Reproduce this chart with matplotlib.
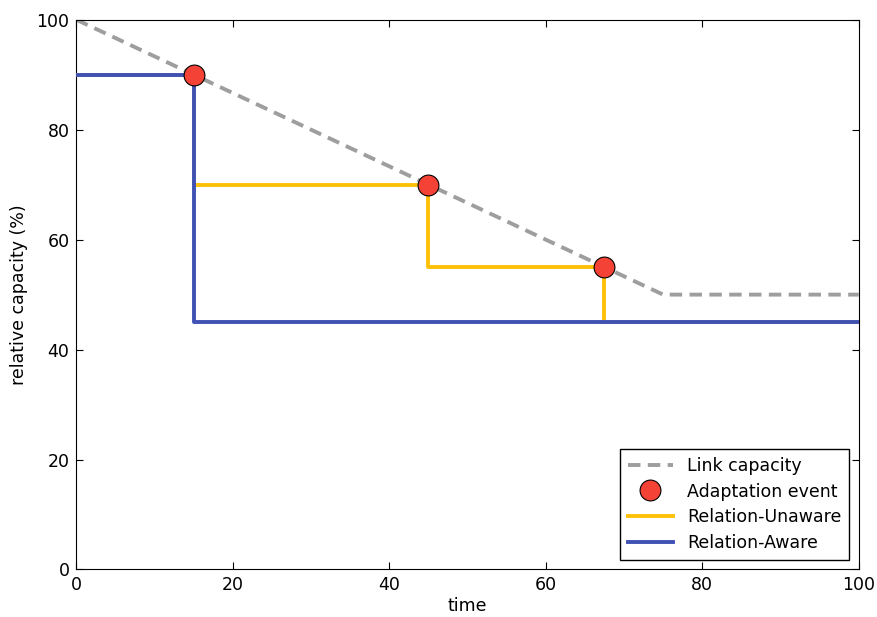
import matplotlib
matplotlib.use("Agg")
import matplotlib.pyplot as plt

# link capacity (piecewise linear)
cap_t = [0, 75, 100]
cap_v = [100, 50, 50]

# adaptation events
event_t = [15, 45, 67.5]
event_v = [90, 70, 55]

# step series (value holds from each time until the next)
unaware_t = [0, 15, 45, 67.5, 100]
unaware_v = [90, 70, 55, 45, 45]
aware_t = [0, 15, 100]
aware_v = [90, 45, 45]

plt.rcParams['font.family'] = 'DejaVu Sans'
plt.rcParams['font.size'] = 12.5
plt.rcParams['xtick.direction'] = 'in'
plt.rcParams['ytick.direction'] = 'in'
plt.rcParams['xtick.top'] = True
plt.rcParams['ytick.right'] = True
plt.rcParams['xtick.major.size'] = 5
plt.rcParams['ytick.major.size'] = 5
plt.rcParams['xtick.major.pad'] = 5
plt.rcParams['ytick.major.pad'] = 5

fig, ax = plt.subplots(figsize=(8.78, 6.17), dpi=100)
fig.subplots_adjust(left=0.087, right=0.978, top=0.968, bottom=0.077)

ax.plot(cap_t, cap_v, color='#9E9E9E', lw=2.8, ls=(0, (3.2, 1.9)),
        label='Link capacity', zorder=2)
ax.plot(unaware_t, unaware_v, drawstyle='steps-post', color='#FFC107', lw=2.8,
        label='Relation-Unaware', zorder=3)
ax.plot(aware_t, aware_v, drawstyle='steps-post', color='#3F51B5', lw=2.8,
        label='Relation-Aware', zorder=4)
ax.plot(event_t, event_v, 'o', color='#F44336', mec='black', mew=0.8, ms=15,
        label='Adaptation event', zorder=5)

ax.set_xlim(0, 100)
ax.set_ylim(0, 100)
ax.set_xlabel('time', labelpad=2)
ax.set_ylabel('relative capacity (%)', labelpad=6)

h, l = ax.get_legend_handles_labels()
order = [0, 3, 1, 2]
leg = ax.legend([h[i] for i in order], [l[i] for i in order], loc='lower right',
                numpoints=1, fancybox=False, framealpha=1, edgecolor='black',
                borderaxespad=0.55, handlelength=2.6, labelspacing=0.45,
                borderpad=0.45)
leg.get_frame().set_linewidth(1)

fig.savefig('out.png', dpi=100)
